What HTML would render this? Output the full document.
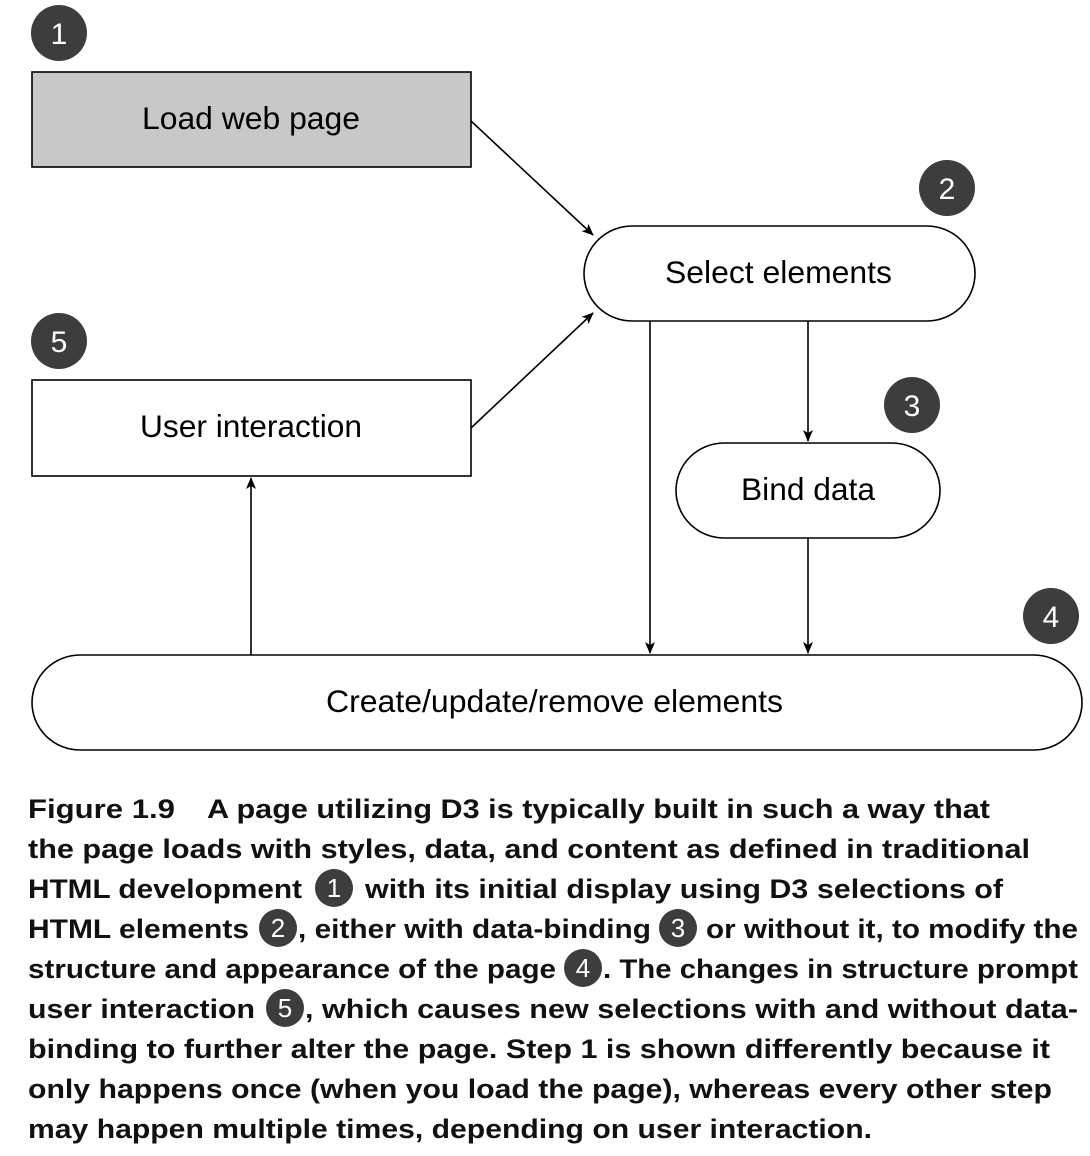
<!DOCTYPE html>
<html><head><meta charset="utf-8"><style>html,body{margin:0;padding:0;background:#fff}svg{display:block}</style></head>
<body>
<svg width="1090" height="1156" viewBox="0 0 1090 1156" xmlns="http://www.w3.org/2000/svg">
<defs><marker id="a" markerWidth="12" markerHeight="10" refX="11" refY="5" orient="auto" markerUnits="userSpaceOnUse"><path d="M0,0 L12,5 L0,10 L3,5 Z" fill="#000"/></marker></defs>
<g font-family="Liberation Sans, sans-serif">
<g fill="#3d3d3d"><circle cx="59" cy="33" r="28"/><circle cx="947" cy="188" r="28"/><circle cx="59" cy="341" r="28"/><circle cx="912" cy="405" r="28"/><circle cx="1051" cy="616" r="28"/></g>
<g fill="#fff" font-size="30" text-anchor="middle"><text x="59" y="44">1</text><text x="947" y="199">2</text><text x="59" y="352">5</text><text x="912" y="416">3</text><text x="1051" y="627">4</text></g>
<g stroke="#000" stroke-width="1.6">
<rect x="32" y="72" width="439" height="95" fill="#c8c8c8"/>
<rect x="584" y="226" width="391" height="95" rx="48" fill="#fff"/>
<rect x="32" y="380" width="439" height="96" fill="#fff"/>
<rect x="676" y="443" width="264" height="95" rx="48" fill="#fff"/>
<rect x="32" y="655" width="1050" height="95" rx="48" fill="#fff"/>
<g marker-end="url(#a)" fill="none">
<line x1="471" y1="121" x2="593" y2="235"/>
<line x1="471" y1="428" x2="593" y2="313"/>
<line x1="650" y1="321" x2="650" y2="653"/>
<line x1="808" y1="321" x2="808" y2="441"/>
<line x1="808" y1="538" x2="808" y2="653"/>
<line x1="251" y1="655" x2="251" y2="478"/>
</g></g>
<g font-size="31.5" fill="#000">
<text x="142" y="129" textLength="218" lengthAdjust="spacingAndGlyphs">Load web page</text>
<text x="665" y="283" textLength="227" lengthAdjust="spacingAndGlyphs">Select elements</text>
<text x="140" y="437" textLength="222" lengthAdjust="spacingAndGlyphs">User interaction</text>
<text x="741" y="500" textLength="134" lengthAdjust="spacingAndGlyphs">Bind data</text>
<text x="326" y="712" textLength="457" lengthAdjust="spacingAndGlyphs">Create/update/remove elements</text>
</g>
<g font-size="27" font-weight="bold" fill="#111">
<text x="28" y="818" textLength="147" lengthAdjust="spacingAndGlyphs">Figure 1.9</text>
<text x="207" y="818" textLength="783" lengthAdjust="spacingAndGlyphs">A page utilizing D3 is typically built in such a way that</text>
<text x="28" y="858" textLength="1002" lengthAdjust="spacingAndGlyphs">the page loads with styles, data, and content as defined in traditional</text>
<text x="28" y="898" textLength="274" lengthAdjust="spacingAndGlyphs">HTML development</text>
<text x="365" y="898" textLength="638" lengthAdjust="spacingAndGlyphs">with its initial display using D3 selections of</text>
<text x="28" y="938" textLength="221" lengthAdjust="spacingAndGlyphs">HTML elements</text>
<text x="298" y="938" textLength="353" lengthAdjust="spacingAndGlyphs">, either with data-binding</text>
<text x="706" y="938" textLength="372" lengthAdjust="spacingAndGlyphs">or without it, to modify the</text>
<text x="28" y="978" textLength="528" lengthAdjust="spacingAndGlyphs">structure and appearance of the page</text>
<text x="603" y="978" textLength="475" lengthAdjust="spacingAndGlyphs">. The changes in structure prompt</text>
<text x="28" y="1018" textLength="227" lengthAdjust="spacingAndGlyphs">user interaction</text>
<text x="305" y="1018" textLength="773" lengthAdjust="spacingAndGlyphs">, which causes new selections with and without data-</text>
<text x="28" y="1058" textLength="1022" lengthAdjust="spacingAndGlyphs">binding to further alter the page. Step 1 is shown differently because it</text>
<text x="28" y="1098" textLength="1024" lengthAdjust="spacingAndGlyphs">only happens once (when you load the page), whereas every other step</text>
<text x="28" y="1138" textLength="844" lengthAdjust="spacingAndGlyphs">may happen multiple times, depending on user interaction.</text>
</g>
<g fill="#3d3d3d"><circle cx="334" cy="888" r="19"/><circle cx="278" cy="928" r="19"/><circle cx="678" cy="928" r="19"/><circle cx="583" cy="968" r="19"/><circle cx="285" cy="1008" r="19"/></g>
<g fill="#fff" font-size="26" text-anchor="middle"><text x="334" y="897">1</text><text x="278" y="937">2</text><text x="678" y="937">3</text><text x="583" y="977">4</text><text x="285" y="1017">5</text></g>
</g>
</svg>
</body></html>
